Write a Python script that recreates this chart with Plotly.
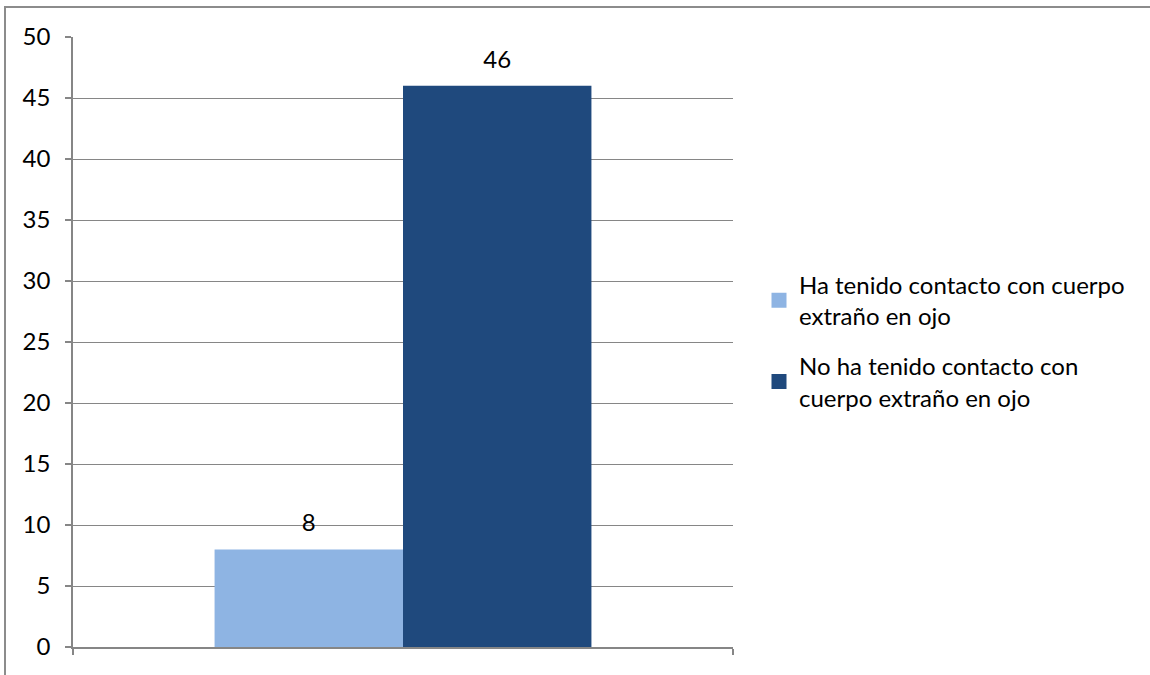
import plotly.graph_objects as go

# Survey responses: contact with a foreign body in the eye
categories = [""]
series_names = [
    "Ha tenido contacto con cuerpo<br>extraño en ojo",
    "No ha tenido contacto con<br>cuerpo extraño en ojo",
]
series_values = [[8], [46]]
series_colors = ["#8EB4E3", "#1F497D"]
y_tick_values = [0, 5, 10, 15, 20, 25, 30, 35, 40, 45, 50]

FONT = "Lato, Carlito, Calibri, sans-serif"
FS = 24
AXIS_GRAY = "#868686"
GAP = 0.429

fig = go.Figure()
for i, (name, vals, color) in enumerate(zip(series_names, series_values, series_colors)):
    grp = f"s{i}"
    fig.add_trace(go.Bar(
        x=categories, y=vals, name=name, showlegend=False,
        offsetgroup=grp, legendgroup=grp,
        marker=dict(color=color, line=dict(width=0)),
    ))
    # value label above each bar, placed in the same offset group
    fig.add_trace(go.Scatter(
        x=categories, y=vals, mode="markers+text", showlegend=False,
        offsetgroup=grp, legendgroup=grp,
        text=[str(v) for v in vals], textposition="top center",
        textfont=dict(family=FONT, size=FS, color="#000000"),
        marker=dict(size=18, opacity=0),
        hoverinfo="skip", cliponaxis=False,
    ))
    # legend entry with a larger square swatch
    fig.add_trace(go.Scatter(
        x=[None], y=[None], mode="markers", name=name, legendgroup=grp,
        marker=dict(symbol="square", size=15, color=color),
        showlegend=True,
    ))

L, R, T, B = 73, 417, 37, 28
W, H = 1150, 675
pw, ph = W - L - R, H - T - B

fig.update_layout(
    width=W, height=H,
    margin=dict(l=L, r=R, t=T, b=B),
    paper_bgcolor="white", plot_bgcolor="white",
    barmode="group", bargap=GAP, bargroupgap=0,
    scattermode="group", scattergap=GAP,
    font=dict(family=FONT, size=FS, color="#000000"),
    showlegend=True,
    legend=dict(
        x=(759 - L) / pw, xanchor="left",
        y=(647 - 341) / ph, yanchor="middle",
        font=dict(family=FONT, size=FS, color="#000000"),
        itemsizing="trace", traceorder="grouped", tracegroupgap=16,
        bgcolor="rgba(0,0,0,0)",
    ),
    xaxis=dict(
        range=[-0.5, 0.5], showgrid=False, zeroline=False,
        showline=True, linecolor=AXIS_GRAY, linewidth=1.5,
        ticks="outside", tickson="boundaries", ticklen=6,
        tickcolor=AXIS_GRAY, tickwidth=1.5, showticklabels=False,
    ),
    yaxis=dict(
        range=[0, 50], tickvals=y_tick_values,
        showgrid=True, gridcolor=AXIS_GRAY, gridwidth=1,
        zeroline=False, showline=True, linecolor=AXIS_GRAY, linewidth=1.5,
        ticks="outside", ticklen=6, tickcolor=AXIS_GRAY, tickwidth=1.5,
        ticklabelstandoff=10,
        tickfont=dict(family=FONT, size=FS, color="#000000"),
    ),
)

# Chart-area frame
fig.add_shape(
    type="rect", xref="paper", yref="paper",
    x0=(5 - L) / pw, x1=(1160 - L) / pw,
    y0=(647 - 690) / ph, y1=1 + (T - 7) / ph,
    line=dict(color="#8C8C8C", width=2), fillcolor="rgba(0,0,0,0)",
    layer="below",
)

fig.write_html("out.html")
